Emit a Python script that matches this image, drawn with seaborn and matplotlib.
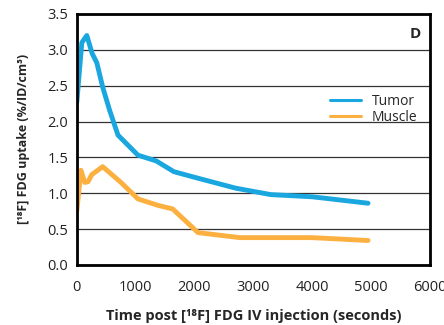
import matplotlib
matplotlib.use("Agg")
from matplotlib import pyplot as plt
import seaborn as sns
import pandas as pd

# time (s) and uptake (%/ID/cm3)
tumor_t = [0, 85, 170, 260, 340, 440, 560, 700, 1040, 1350, 1650, 2100, 2700, 3300, 4000, 4950]
tumor_y = [2.27, 3.1, 3.2, 2.95, 2.82, 2.48, 2.15, 1.81, 1.53, 1.45, 1.3, 1.2, 1.07, 0.98, 0.95, 0.86]
muscle_t = [0, 70, 135, 190, 255, 440, 750, 1040, 1380, 1630, 2060, 2770, 4000, 4950]
muscle_y = [0.75, 1.32, 1.15, 1.16, 1.26, 1.37, 1.15, 0.92, 0.83, 0.78, 0.45, 0.38, 0.38, 0.34]

df = pd.concat([
    pd.DataFrame({"t": tumor_t, "y": tumor_y, "tissue": "Tumor"}),
    pd.DataFrame({"t": muscle_t, "y": muscle_y, "tissue": "Muscle"}),
])

sns.set_style("white")
plt.rcParams['font.family'] = ['Open Sans', 'DejaVu Sans']

fig = plt.figure(figsize=(4.44, 3.25), dpi=100)
ax = fig.add_axes([0.173, 0.185, 0.795, 0.772])

sns.lineplot(data=df, x="t", y="y", hue="tissue", palette={"Tumor": "#1aa7e0", "Muscle": "#fbb040"},
             linewidth=3.5, ax=ax, sort=False, estimator=None, solid_capstyle="round")

ax.set_xlim(0, 6000)
ax.set_ylim(0, 3.5)
ax.set_xticks(range(0, 6001, 1000))
ax.set_yticks([i * 0.5 for i in range(8)])
ax.set_yticklabels([f"{i * 0.5:.1f}" for i in range(8)])
ax.tick_params(labelsize=10.5, length=0, colors="#222222")
ax.tick_params(axis="x", pad=11)
ax.tick_params(axis="y", pad=6)
ax.yaxis.grid(True, color="#333333", linewidth=0.9)
ax.set_axisbelow(True)
for s in ax.spines.values():
    s.set_color("black")
    s.set_linewidth(2)

ax.set_xlabel("Time post [¹⁸F] FDG IV injection (seconds)", fontsize=10.5, fontweight="bold", labelpad=10)
ax.set_ylabel("[¹⁸F] FDG uptake (%/ID/cm³)", fontsize=9, fontweight="bold", labelpad=13)

ax.text(0.975, 0.95, "D", transform=ax.transAxes, ha="right", va="top", fontsize=11, fontweight="bold")

leg = ax.legend(loc="upper right", bbox_to_anchor=(1.0, 0.73), frameon=False, fontsize=10,
                handlelength=2.2, handletextpad=0.8, labelspacing=0.05, title=None)
for h in leg.get_lines():
    h.set_linewidth(2.2)

fig.savefig("out.png", dpi=100)
